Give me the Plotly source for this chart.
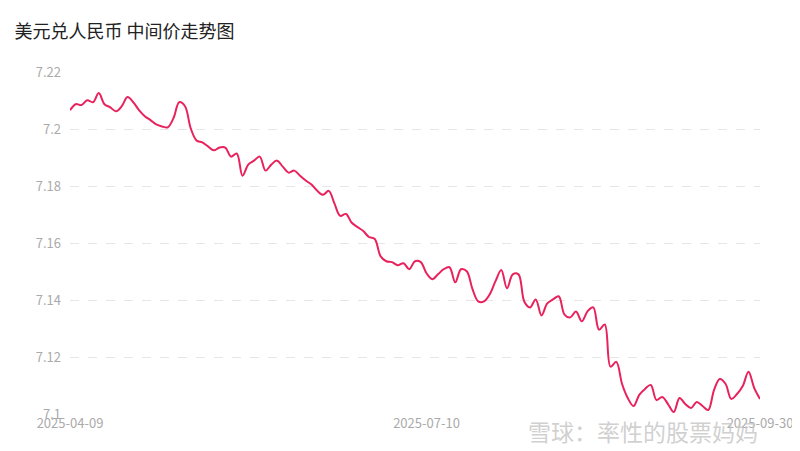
import plotly.graph_objects as go

# 美元兑人民币 中间价 (每个交易日一个点)
rates = [
    7.2066, 7.2087, 7.2084, 7.2101, 7.2094, 7.2126, 7.2087, 7.2076, 7.2062, 7.2080,
    7.2112, 7.2094, 7.2066, 7.2045, 7.2031, 7.2016, 7.2009, 7.2006, 7.2038, 7.2094,
    7.2080, 7.2002, 7.1960, 7.1953, 7.1939, 7.1925, 7.1935, 7.1935, 7.1903, 7.1914,
    7.1836, 7.1875, 7.1889, 7.1903, 7.1854, 7.1875, 7.1889, 7.1868, 7.1847, 7.1854,
    7.1836, 7.1819, 7.1805, 7.1783, 7.1769, 7.1783, 7.1738, 7.1695, 7.1702, 7.1671,
    7.1656, 7.1642, 7.1621, 7.1614, 7.1554, 7.1536, 7.1533, 7.1522, 7.1529, 7.1508,
    7.1536, 7.1533, 7.1494, 7.1473, 7.1490, 7.1508, 7.1515, 7.1462, 7.1508, 7.1501,
    7.1438, 7.1395, 7.1395, 7.1420, 7.1466, 7.1505, 7.1441, 7.1490, 7.1490, 7.1395,
    7.1374, 7.1402, 7.1346, 7.1388, 7.1402, 7.1413, 7.1349, 7.1339, 7.1360, 7.1325,
    7.1360, 7.1374, 7.1296, 7.1314, 7.1166, 7.1183, 7.1106, 7.1056, 7.1028, 7.1067,
    7.1088, 7.1102, 7.1049, 7.1060, 7.1035, 7.1007, 7.1056, 7.1035, 7.1021, 7.1042,
    7.1028, 7.1014, 7.1084, 7.1123, 7.1106, 7.1053, 7.1070, 7.1098, 7.1148, 7.1091,
    7.1053,
]
day_index = list(range(len(rates)))

tick_positions = [0, 62, 120]
tick_labels = ["2025-04-09", "2025-07-10", "2025-09-30"]
y_ticks = [7.1, 7.12, 7.14, 7.16, 7.18, 7.2, 7.22]

fig = go.Figure(go.Scatter(
    x=day_index,
    y=rates,
    mode="lines",
    line=dict(color="#e8225c", width=2, shape="spline", smoothing=1),
    hoverinfo="y",
))

fig.update_layout(
    width=800,
    height=451,
    paper_bgcolor="white",
    plot_bgcolor="white",
    showlegend=False,
    font=dict(family="Noto Sans CJK SC, Noto Sans, sans-serif", color="#aaaaaa", size=13),
    title=dict(text="美元兑人民币 中间价走势图", x=0.008, y=0.947, xanchor="left",
               yanchor="middle", font=dict(size=18, color="#222222")),
    margin=dict(l=62, r=48, t=64, b=45),
    xaxis=dict(
        range=[0, 120],
        tickvals=tick_positions,
        ticktext=tick_labels,
        showgrid=False,
        zeroline=False,
        showline=False,
        ticks="",
        tickfont=dict(size=13, color="#aaaaaa"),
    ),
    yaxis=dict(
        range=[7.1, 7.22],
        tickvals=y_ticks,
        ticktext=[str(v) for v in y_ticks],
        showgrid=True,
        gridcolor="#e6e6e6",
        griddash="dash",
        zeroline=False,
        ticks="",
        ticklabelstandoff=8,
        tickfont=dict(size=13, color="#aaaaaa"),
    ),
    shapes=[dict(type="line", xref="paper", yref="paper", x0=-0.1, x1=1.1,
                 y0=1.19, y1=1.19, line=dict(color="black", width=1.5))],
    annotations=[dict(text="雪球：率性的股票妈妈", xref="paper", yref="paper",
                      x=1.0, y=-0.05, xanchor="right", yanchor="middle",
                      showarrow=False, font=dict(size=23, color="rgba(200,200,200,0.85)"))],
)

fig.write_html("out.html")
